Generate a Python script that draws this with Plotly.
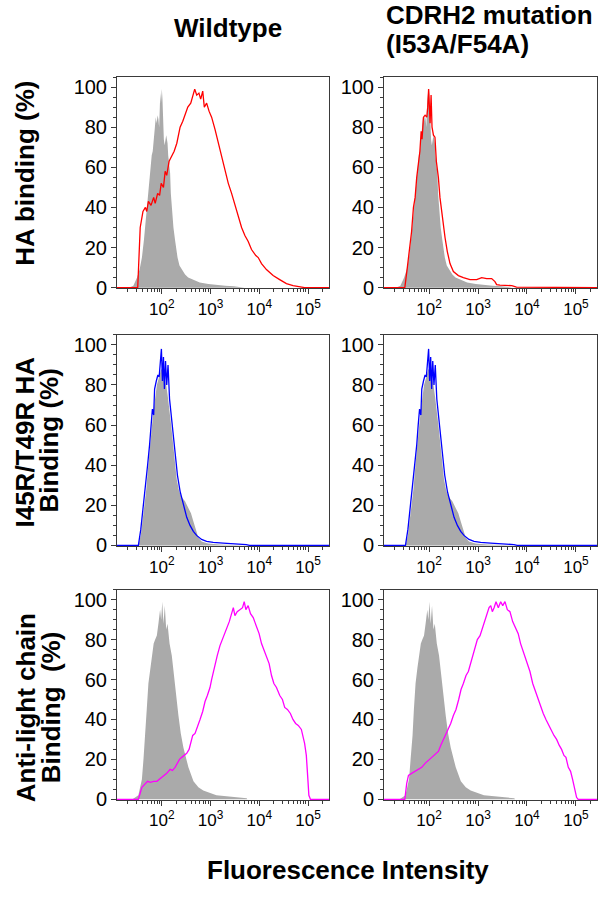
import plotly.graph_objects as go

# ---------------- data (fluorescence intensity, % of max) ----------------
gray_ha_x = [12, 21, 26, 31, 35, 39, 43, 46, 49, 52, 55, 58, 62, 65, 68, 72, 75, 78, 82, 85, 88, 90, 93, 96,
             100, 103, 106, 110, 114, 118, 123, 127, 131, 135, 140, 148, 153, 158, 165, 173, 186, 200, 210,
             230, 257, 300, 347, 420, 600, 900, 1300, 2000, 3000, 4600, 5000, 270000]
gray_ha_y = [0, 0, 1, 5, 9, 15, 24, 32, 40, 48, 54, 60, 66, 68, 72, 80, 85, 82, 86, 84, 80, 86, 97, 92,
             99, 94, 80, 74, 71, 74, 76, 74, 72, 66, 62, 57, 47, 42, 36, 30, 24, 18, 15,
             11, 9, 6.5, 5, 4, 2.5, 1.8, 1.3, 1, 0.7, 0.4, 0, 0]

red_wt_x = [12, 32, 36, 41, 46, 49, 53, 60, 68, 73, 82, 90, 97, 108, 117, 126, 141, 160, 179, 203, 237,
            269, 300, 341, 392, 430, 473, 520, 577, 627, 690, 744, 830, 930, 1050, 1230, 1440, 1690,
            1980, 2310, 2700, 3160, 3700, 4330, 5060, 5920, 6920, 8480, 9500, 11100, 14000, 19200,
            26200, 36000, 49300, 67000, 85000, 270000]
red_wt_y = [0, 0, 30, 38, 40, 38, 43, 41, 45, 42, 47, 46, 52, 50, 58, 56, 63, 66, 68, 72, 80,
            83, 86, 90, 92, 95, 99, 96, 97, 94, 98, 90, 92, 88, 85, 79, 72, 65,
            58, 52, 47, 41, 35, 30, 26, 23, 19, 16, 15, 12, 9, 6,
            4, 2, 1, 0.5, 0, 0]

red_mut_x = [12, 32, 36, 41, 44, 48, 52, 56, 61, 65, 69, 72, 77, 83, 90, 94, 98, 105, 110, 115, 123,
             132, 141, 155, 167, 181, 196, 212, 236, 268, 314, 397, 502, 686, 940, 1190, 1500, 1900,
             2220, 2400, 2800, 4900, 6100, 11500, 13000, 270000]
red_mut_y = [0, 0, 10, 20, 28, 40, 45, 55, 62, 68, 78, 74, 85, 86, 85, 90, 99, 82, 96, 80, 76,
             75, 63, 55, 45, 38, 30, 25, 18, 12, 8, 6, 5, 4, 4, 5, 4.5, 4.5,
             3, 1.5, 1.2, 1, 0.3, 0.3, 0, 0]

gray_i45_x = [12, 33, 37, 42, 48, 51, 56, 63, 70, 79, 88, 97, 105, 113, 123, 133, 144, 155, 168, 184,
              202, 226, 256, 299, 350, 396, 443, 502, 560, 654, 890, 1550, 2900, 5400, 270000]
gray_i45_y = [0, 0, 5, 15, 28, 36, 48, 60, 70, 80, 84, 88, 87, 84, 80, 74, 68, 60, 52, 42,
              33, 27, 24, 22, 19, 16, 12, 8, 4, 2, 1, 0.5, 0.2, 0, 0]

blue_x = [12, 33, 37, 42, 46, 51, 56, 60, 64, 68, 71, 77, 83, 88, 92, 98, 103, 108, 113, 119, 126,
          134, 144, 155, 168, 186, 209, 237, 276, 324, 379, 443, 517, 654, 828, 1130, 1810, 2700,
          3980, 5400, 6300, 270000]
blue_y = [0, 0, 8, 20, 28, 40, 50, 60, 68, 65, 78, 82, 85, 84, 90, 98, 82, 94, 78, 92, 80,
          90, 73, 65, 55, 45, 35, 27, 20, 14, 10, 7, 5, 3, 2, 1.5, 1.2, 1,
          0.6, 0.4, 0, 0]

gray_lc_x = [12, 25, 33, 39, 42, 46, 49, 53, 58, 62, 68, 73, 79, 85, 92, 97, 102, 108, 115, 123, 131,
             144, 160, 174, 186, 203, 219, 245, 277, 351, 446, 562, 708, 1320, 2950, 5500, 5700, 270000]
gray_lc_y = [0, 0, 2, 10, 20, 32, 45, 58, 66, 72, 78, 80, 82, 88, 95, 90, 99, 88, 97, 85, 88,
             78, 72, 64, 57, 48, 42, 33, 26, 16, 9, 6, 4.4, 2, 1, 0.5, 0, 0]

mag_wt_x = [12, 33, 39, 46, 51, 58, 68, 79, 90, 100, 112, 126, 148, 165, 187, 209, 230, 256, 286, 324,
            362, 398, 430, 480, 536, 608, 689, 770, 859, 973, 1050, 1140, 1250, 1370, 1560, 1820,
            2140, 2420, 2700, 2930, 3160, 3520, 3990, 4530, 4900, 5300, 5900, 6600, 7500, 8800,
            9900, 11100, 12400, 14000, 15900, 17800, 19900, 22500, 26300, 29800, 33200, 37700,
            43400, 49000, 55600, 63000, 72900, 85000, 92200, 98000, 104000, 112000, 270000]
mag_wt_y = [0, 0, 6, 8, 9, 8.5, 9, 9, 10, 11, 12, 13, 15, 14.5, 16, 18, 20, 21, 22, 23,
            25, 29, 32, 33, 36, 40, 44, 49, 52, 56, 60, 64, 68, 72, 77, 81,
            85, 89, 93, 96, 92, 94, 95, 96, 99, 95, 97, 93, 91, 86,
            83, 78, 75, 72, 68, 62, 58, 56, 52, 50, 46, 45,
            43, 40, 38, 37, 35, 28, 22, 12, 2, 0, 0]

mag_mut_x = [12, 32, 35, 38, 44, 52, 61, 71, 83, 92, 105, 123, 139, 155, 173, 196, 222, 248, 277, 314,
             355, 403, 450, 502, 569, 635, 707, 777, 867, 969, 1100, 1230, 1370, 1500, 1680, 1820,
             1960, 2130, 2330, 2600, 2900, 3200, 3550, 3970, 4490, 5100, 5800, 6620, 7400, 8410,
             9840, 11500, 13100, 14800, 17100, 19300, 21500, 24400, 27200, 30900, 35600, 40300,
             45700, 50900, 56900, 62500, 69800, 77700, 85400, 93700, 103000, 111000, 270000]
mag_mut_y = [0, 0, 8, 12, 13, 14, 15, 16, 18, 19, 20, 22, 23, 24, 27, 30, 33, 36, 38, 42,
             45, 50, 55, 58, 62, 64, 68, 72, 76, 80, 82, 86, 90, 93, 96, 97,
             94, 96, 99, 96, 99, 97, 99, 95, 94, 89, 86, 83, 78, 74,
             69, 64, 58, 54, 50, 46, 43, 40, 38, 35, 32, 30,
             27, 25, 22, 21, 16, 14, 10, 5, 1, 0, 0]

col_titles = ["Wildtype", "CDRH2 mutation", "(I53A/F54A)"]
row_titles = [["HA binding (%)"], ["I45R/T49R HA", "Binding (%)"], ["Anti-light chain", "Binding\u00a0\u00a0(%)"]]
x_title = "Fluorescence Intensity"
x_tickvals = [100, 1000, 10000, 100000]
x_ticktext = ["10<sup>2</sup>", "10<sup>3</sup>", "10<sup>4</sup>", "10<sup>5</sup>"]
y_tickvals = [0, 20, 40, 60, 80, 100]

panels = [
    # (row, col, gray x, gray y, line x, line y, line color)
    (0, 0, gray_ha_x, gray_ha_y, red_wt_x, red_wt_y, "#ff0000"),
    (0, 1, gray_ha_x, gray_ha_y, red_mut_x, red_mut_y, "#ff0000"),
    (1, 0, gray_i45_x, gray_i45_y, blue_x, blue_y, "#0000ff"),
    (1, 1, gray_i45_x, gray_i45_y, blue_x, blue_y, "#0000ff"),
    (2, 0, gray_lc_x, gray_lc_y, mag_wt_x, mag_wt_y, "#ff00ff"),
    (2, 1, gray_lc_x, gray_lc_y, mag_mut_x, mag_mut_y, "#ff00ff"),
]

# ---------------- layout geometry ----------------
W, H = 600, 898
col_px = [(117, 329), (384, 597)]
row_px = [(77, 291), (338, 552), (596, 809)]

def px_x(p):
    return p / W

def px_y(p):
    return 1 - p / H

minor_x = [m * 10 ** e for e in range(1, 6) for m in range(2, 10) if m * 10 ** e < 2.7e5]

fig = go.Figure()
layout = dict(
    width=W, height=H, margin=dict(l=0, r=0, t=0, b=0),
    paper_bgcolor="white", plot_bgcolor="white", showlegend=False,
    font=dict(family="Arial, Liberation Sans, sans-serif", color="black"),
)

axis_color = "#3a3a3a"
for i, (r, c, gx, gy, lx, ly, lc) in enumerate(panels):
    n = i + 1
    xa = "x" if n == 1 else f"x{n}"
    ya = "y" if n == 1 else f"y{n}"
    fig.add_trace(go.Scatter(x=gx, y=gy, mode="lines", fill="tozeroy",
                             fillcolor="rgb(170,170,170)", line=dict(width=0, color="rgb(170,170,170)"),
                             xaxis=xa, yaxis=ya, hoverinfo="skip"))
    fig.add_trace(go.Scatter(x=lx, y=ly, mode="lines", line=dict(width=1.3, color=lc),
                             xaxis=xa, yaxis=ya))
    layout["xaxis" if n == 1 else f"xaxis{n}"] = dict(
        domain=[px_x(col_px[c][0]), px_x(col_px[c][1])], anchor=ya, type="log",
        range=[1.08, 5.43], showgrid=False, zeroline=False, showline=True, mirror=True,
        linecolor=axis_color, linewidth=1, ticks="outside", ticklen=5, tickcolor=axis_color,
        tickmode="array", tickvals=x_tickvals, ticktext=x_ticktext,
        tickfont=dict(size=17, color="black"),
        minor=dict(tickmode="array", tickvals=minor_x, ticks="outside", ticklen=3,
                   tickcolor=axis_color, showgrid=False),
    )
    layout["yaxis" if n == 1 else f"yaxis{n}"] = dict(
        domain=[px_y(row_px[r][1]), px_y(row_px[r][0])], anchor=xa,
        range=[-0.4, 105], showgrid=False, zeroline=False, showline=True, mirror=True,
        linecolor=axis_color, linewidth=1, ticks="outside", ticklen=5, tickcolor=axis_color,
        tickmode="array", tickvals=y_tickvals, tickfont=dict(size=20, color="black"),
        minor=dict(tickmode="linear", tick0=0, dtick=5, ticks="outside", ticklen=3,
                   tickcolor=axis_color, showgrid=False),
    )

bold = dict(family="Arial, Liberation Sans, sans-serif", size=26, color="black")
ann = []
ann.append(dict(text="<b>%s</b>" % col_titles[0], x=px_x(228), y=px_y(27), xanchor="center", yanchor="middle"))
ann.append(dict(text="<b>%s</b>" % col_titles[1], x=px_x(384), y=px_y(14), xanchor="left", yanchor="middle"))
ann.append(dict(text="<b>%s</b>" % col_titles[2], x=px_x(384), y=px_y(44), xanchor="left", yanchor="middle"))
row_pos = [[(25, 175)], [(25, 447), (49, 445)], [(26, 716), (51, 715)]]
for lines, pos in zip(row_titles, row_pos):
    for t, (xp, yp) in zip(lines, pos):
        ann.append(dict(text="<b>%s</b>" % t, x=px_x(xp), y=px_y(yp), textangle=-90,
                        xanchor="center", yanchor="middle"))
ann.append(dict(text="<b>%s</b>" % x_title, x=px_x(348), y=px_y(880), xanchor="center", yanchor="middle"))
for a in ann:
    a.update(xref="paper", yref="paper", showarrow=False, font=bold)
layout["annotations"] = ann

fig.update_layout(**layout)
fig.write_html("out.html", config={"displayModeBar": False},
               post_script="document.body.style.margin='0px';")
